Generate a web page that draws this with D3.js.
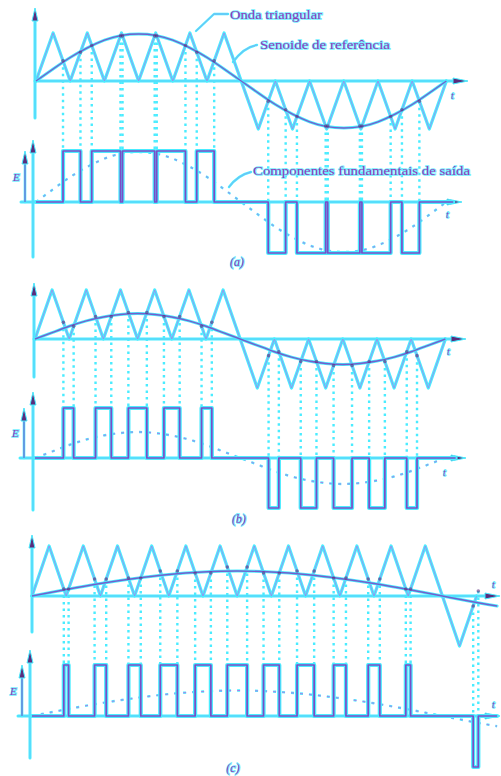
<!DOCTYPE html>
<meta charset="utf-8">
<script src="https://cdn.jsdelivr.net/npm/d3@7/dist/d3.min.js"></script>
<style>
  body { margin: 0; background: #fff; }
  text { font-family: "Liberation Serif", "DejaVu Serif", serif; fill: #9436b8; stroke: #74f0ff; stroke-width: 1.6px; paint-order: stroke; }
</style>
<div id="pwm"></div>
<script>
// time unit = one carrier period

// carrier (triangle) vertices, panels (a) and (b)
var carrierU_ab = [0,0.5,1,1.5,2,2.5,3,3.5,4,4.5,5,5.5,6.5,7,7.5,8,8.5,9,9.5,10,10.5,11,11.5,12];
var carrierV_ab = [0,1,0,1,0,1,0,1,0,1,0,1,-1,0,-1,0,-1,0,-1,0,-1,0,-1,0];
// carrier vertices, panel (c)
var carrierU_c = [0,0.5,1,1.5,2,2.5,3,3.5,4,4.5,5,5.5,6,6.5,7,7.5,8,8.5,9,9.5,10,10.5,11,11.5,12.5,13];
var carrierV_c = [0,1,0,1,0,1,0,1,0,1,0,1,0,1,0,1,0,1,0,1,0,1,0,1,-1,0];

// reference sine
var refU_ab = [0,0.5,1,1.5,2,2.5,3,3.5,4,4.5,5,5.5,6,6.5,7,7.5,8,8.5,9,9.5,10,10.5,11,11.5,12];
var refA = [0,0.25,0.49,0.69,0.85,0.95,0.98,0.95,0.85,0.69,0.49,0.25,0,-0.25,-0.49,-0.69,-0.85,-0.95,-0.98,-0.95,-0.85,-0.69,-0.49,-0.25,0];
var refB = [0,0.13,0.26,0.37,0.45,0.5,0.52,0.5,0.45,0.37,0.26,0.13,0,-0.13,-0.26,-0.37,-0.45,-0.5,-0.52,-0.5,-0.45,-0.37,-0.26,-0.13,0];
var refU_c = [0,1,2,3,4,5,6,7,8,9,10,11,12,13,13.6];
var refC = [0,0.13,0.25,0.35,0.43,0.48,0.5,0.48,0.43,0.35,0.25,0.13,0,-0.13,-0.2];

// output pulses [start, end]
var pulsesA = [[0.79,1.30],[1.63,2.47],[2.53,3.47],[3.53,4.37],[4.70,5.21]];
var pulsesANeg = [[6.79,7.30],[7.63,8.47],[8.53,9.47],[9.53,10.37],[10.70,11.21]];
var pulsesB = [[0.83,1.13],[1.77,2.23],[2.73,3.27],[3.77,4.23],[4.87,5.17]];
var pulsesBNeg = [[6.83,7.13],[7.77,8.23],[8.73,9.27],[9.77,10.23],[10.87,11.17]];
var pulsesC = [[0.93,1.07],[1.83,2.17],[2.82,3.18],[3.75,4.25],[4.77,5.23],[5.71,6.29],[6.77,7.23],[7.75,8.25],[8.82,9.18],[9.83,10.17],[10.93,11.07]];
var pulsesCNeg = [[12.9,13.05]];

var unitPx = 34.2;
var cyan = "#4aecff", violet = "#7c44c4", magenta = "#c957e2", dark = "#5a2c7c";

var panels = [
  { label: "(a)", carU: carrierU_ab, carV: carrierV_ab, refU: refU_ab, ref: refA, pos: pulsesA, neg: pulsesANeg, uEnd: 12.2,
    x0: 36, axisY: 81, amp: 48, outY: 202, E: 51, axX: 35, topV: [118, 8], oX: 33, outV: [257, 140], eX: 25,
    xEnd: 468, xEndOut: 462, tTop: [451, 99], tOut: [446, 218], lab: [237, 266] },
  { label: "(b)", carU: carrierU_ab, carV: carrierV_ab, refU: refU_ab, ref: refB, pos: pulsesB, neg: pulsesBNeg, uEnd: 12.3,
    x0: 35, axisY: 339, amp: 49, outY: 458, E: 50, axX: 34, topV: [377, 283], oX: 33, outV: [510, 392], eX: 24,
    xEnd: 466, xEndOut: 466, tTop: [447, 355], tOut: [443, 476], lab: [239, 523] },
  { label: "(c)", carU: carrierU_c, carV: carrierV_c, refU: refU_c, ref: refC, pos: pulsesC, neg: pulsesCNeg, uEnd: 13.6,
    x0: 32, axisY: 596, amp: 50, outY: 716, E: 51, axX: 32, topV: [632, 535], oX: 30, outV: [758, 650], eX: 22,
    xEnd: 500, xEndOut: 500, tTop: [492, 588], tOut: [492, 708], lab: [233, 772] }
];

var svg = d3.select("#pwm").append("svg")
  .attr("width", 501)
  .attr("height", 776);

function zip(a, b) { return a.map(function(d, i) { return [d, b[i]]; }); }

// cyan halo with a thin coloured core, like the scanned print
function doubleLine(g, d, wOut, wIn, colIn, opIn, dash) {
  var o = g.append("path").attr("d", d).attr("fill", "none")
    .attr("stroke", cyan).attr("stroke-width", wOut)
    .attr("stroke-linejoin", "round").attr("stroke-linecap", "round");
  var i = g.append("path").attr("d", d).attr("fill", "none")
    .attr("stroke", colIn).attr("stroke-width", wIn).attr("stroke-opacity", opIn)
    .attr("stroke-linejoin", "round");
  if (dash) { o.attr("stroke-dasharray", dash).attr("stroke-linecap", "butt"); i.attr("stroke-dasharray", dash); }
}

function arrowUp(g, x, tip) {
  g.append("path")
    .attr("d", "M" + x + "," + tip + "L" + (x - 3) + "," + (tip + 13) + "L" + (x + 3) + "," + (tip + 13) + "Z")
    .attr("fill", dark).attr("stroke", cyan).attr("stroke-width", 1);
}
function arrowRight(g, tip, y) {
  g.append("path")
    .attr("d", "M" + tip + "," + y + "L" + (tip - 15) + "," + (y - 3) + "L" + (tip - 15) + "," + (y + 3) + "Z")
    .attr("fill", dark).attr("stroke", cyan).attr("stroke-width", 1);
}

function drawPanel(p) {
  var g = svg.append("g");
  var x = d3.scaleLinear().domain([0, 1]).range([p.x0, p.x0 + unitPx]);
  var yt = d3.scaleLinear().domain([-1, 1]).range([p.axisY + p.amp, p.axisY - p.amp]);
  var yo = d3.scaleLinear().domain([-1, 1]).range([p.outY + p.E, p.outY - p.E]);
  var carrier = d3.scaleLinear().domain(p.carU).range(p.carV);

  // projection lines from the crossings down to the pulse edges
  var edges = [];
  p.pos.forEach(function(d) { edges.push({ u: d[0], lv: 1 }); edges.push({ u: d[1], lv: 1 }); });
  p.neg.forEach(function(d) { edges.push({ u: d[0], lv: 0 }); edges.push({ u: d[1], lv: 0 }); });
  g.selectAll(".proj").data(edges).enter().append("line")
    .attr("x1", function(d) { return x(d.u); })
    .attr("x2", function(d) { return x(d.u); })
    .attr("y1", function(d) { return yt(carrier(d.u)); })
    .attr("y2", function(d) { return yo(d.lv); })
    .attr("stroke", cyan).attr("stroke-width", 2.4).attr("stroke-dasharray", "2.5,4");

  // axes
  doubleLine(g, "M" + p.axX + "," + p.axisY + "H" + (p.xEnd - 8), 3, 0.6, magenta, 0.3);
  doubleLine(g, "M" + p.axX + "," + p.topV[0] + "V" + (p.topV[1] + 6), 3, 0.6, magenta, 0.3);
  doubleLine(g, "M" + (p.eX - 4) + "," + p.outY + "H" + (p.xEndOut - 8), 3, 0.6, magenta, 0.3);
  doubleLine(g, "M" + p.oX + "," + p.outV[0] + "V" + (p.outV[1] + 6), 3, 0.6, magenta, 0.3);
  doubleLine(g, "M" + p.eX + "," + p.outY + "V" + (p.outY - p.E + 6), 2.6, 1.2, violet, 0.8);
  arrowUp(g, p.axX, p.topV[1]);
  arrowUp(g, p.oX, p.outV[1]);
  arrowUp(g, p.eX, p.outY - p.E);
  arrowRight(g, p.xEnd, p.axisY);
  arrowRight(g, p.xEndOut, p.outY);

  // carrier
  var lt = d3.line().x(function(d) { return x(d[0]); }).y(function(d) { return yt(d[1]); });
  doubleLine(g, lt(zip(p.carU, p.carV)), 3.2, 0.9, magenta, 0.6);

  // reference sine
  var ls = d3.line().curve(d3.curveNatural).x(function(d) { return x(d[0]); }).y(function(d) { return yt(d[1]); });
  doubleLine(g, ls(zip(p.refU, p.ref)), 3, 1.4, violet, 0.85);

  // fundamental component of the output (dashed)
  var lf = d3.line().curve(d3.curveNatural).x(function(d) { return x(d[0]); }).y(function(d) { return yo(d[1]); });
  doubleLine(g, lf(zip(p.refU, p.ref)), 2.4, 1, magenta, 0.7, "3,6");

  // output pulses
  var pts = [[0, 0]];
  p.pos.forEach(function(d) { pts.push([d[0], 0], [d[0], 1], [d[1], 1], [d[1], 0]); });
  p.neg.forEach(function(d) { pts.push([d[0], 0], [d[0], -1], [d[1], -1], [d[1], 0]); });
  pts.push([p.uEnd, 0]);
  var lo = d3.line().x(function(d) { return x(d[0]); }).y(function(d) { return yo(d[1]); });
  doubleLine(g, lo(pts), 4.2, 1.7, violet, 0.95);

  // crossing marks
  g.selectAll(".dot").data(edges).enter().append("circle")
    .attr("cx", function(d) { return x(d.u); })
    .attr("cy", function(d) { return yt(carrier(d.u)); })
    .attr("r", 1.8).attr("fill", dark).attr("fill-opacity", 0.6);

  // labels
  g.append("text").attr("x", p.eX - 12).attr("y", p.outY - p.E / 2 + 4)
    .style("font-size", "11px").style("font-style", "italic").text("E");
  g.append("text").attr("x", p.tTop[0]).attr("y", p.tTop[1])
    .style("font-size", "10px").style("font-style", "italic").text("t");
  g.append("text").attr("x", p.tOut[0]).attr("y", p.tOut[1])
    .style("font-size", "10px").style("font-style", "italic").text("t");
  g.append("text").attr("x", p.lab[0]).attr("y", p.lab[1])
    .attr("text-anchor", "middle").style("font-size", "12px").style("font-style", "italic").text(p.label);
}

panels.forEach(drawPanel);

// callouts of panel (a)
var notes = svg.append("g");
doubleLine(notes, "M228,14 L214,14 L196,31", 2.4, 0.8, magenta, 0.5);
doubleLine(notes, "M257,45 Q244,47 233,62", 2.4, 0.8, magenta, 0.5);
doubleLine(notes, "M251,172 Q238,175 229,187", 2.4, 0.8, magenta, 0.5);
notes.append("text").attr("x", 230).attr("y", 19).style("font-size", "13px")
  .attr("textLength", 92).attr("lengthAdjust", "spacingAndGlyphs").text("Onda triangular");
notes.append("text").attr("x", 260).attr("y", 49).style("font-size", "13px")
  .attr("textLength", 130).attr("lengthAdjust", "spacingAndGlyphs").text("Senoide de referência");
notes.append("text").attr("x", 253).attr("y", 175).style("font-size", "13px")
  .attr("textLength", 217).attr("lengthAdjust", "spacingAndGlyphs").text("Componentes fundamentais de saída");
</script>
